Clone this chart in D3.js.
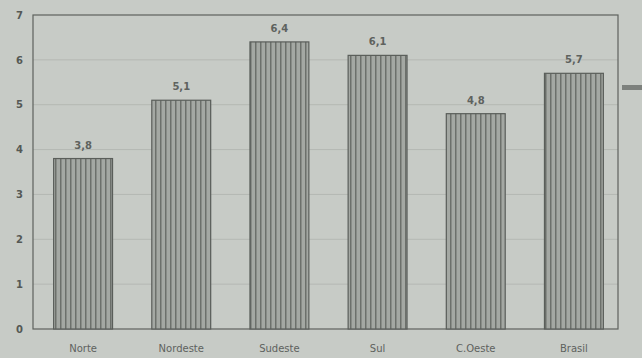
<!DOCTYPE html>
<html><head><meta charset="utf-8">
<script src="https://cdn.jsdelivr.net/npm/d3@7"></script>
<style>body{margin:0;background:#c7cbc6;}svg{display:block;}</style>
</head><body>
<script>
const categories = ["Norte","Nordeste","Sudeste","Sul","C.Oeste","Brasil"];
const values = [3.8, 5.1, 6.4, 6.1, 4.8, 5.7];
const valueLabels = ["3,8","5,1","6,4","6,1","4,8","5,7"];
const yTicks = [0,1,2,3,4,5,6,7];

const W = 642, H = 358;
const m = {left: 33, right: 24, top: 15, bottom: 30};
const svg = d3.select("body").append("svg").attr("width", W).attr("height", H);
svg.append("rect").attr("width", W).attr("height", H).attr("fill", "#c7cbc6");

const defs = svg.append("defs");
const pat = defs.append("pattern").attr("id","stripes").attr("patternUnits","userSpaceOnUse")
  .attr("width",5).attr("height",10);
pat.append("rect").attr("width",5).attr("height",10).attr("fill","#a4a8a3");
pat.append("rect").attr("x",0).attr("width",1.5).attr("height",10).attr("fill","#6c706b");

const x = d3.scaleBand().domain(categories).range([34, 623]).paddingInner(0.4).paddingOuter(0.2);
const y = d3.scaleLinear().domain([0,7]).range([H - m.bottom + 1, m.top]);

// gridlines
svg.append("g").selectAll("line").data(yTicks.slice(1,7)).join("line")
  .attr("x1", m.left).attr("x2", W - m.right)
  .attr("y1", d => y(d)).attr("y2", d => y(d))
  .attr("stroke", "#b4b8b3").attr("stroke-width", 1);

// frame
svg.append("rect").attr("x", m.left).attr("y", m.top)
  .attr("width", W - m.right - m.left).attr("height", y(0) - m.top)
  .attr("fill","none").attr("stroke","#5e625e").attr("stroke-width",1.2);

// y axis labels
const yAxis = d3.axisLeft(y).tickValues(yTicks).tickSize(0).tickPadding(10).tickFormat(d3.format("d"));
const ga = svg.append("g").attr("transform", `translate(${m.left},0)`).call(yAxis);
ga.select(".domain").remove();
ga.selectAll("text").attr("fill","#555955").attr("font-family","DejaVu Sans, sans-serif").attr("font-size",10).attr("font-weight","bold");

// bars
svg.append("g").selectAll("rect").data(values).join("rect")
  .attr("x", (d,i) => x(categories[i])).attr("width", x.bandwidth())
  .attr("y", d => y(d)).attr("height", d => y(0) - y(d))
  .attr("fill","url(#stripes)").attr("stroke","#5a5e5a").attr("stroke-width",1.2);

// value labels
svg.append("g").selectAll("text").data(values).join("text")
  .attr("x", (d,i) => x(categories[i]) + x.bandwidth()/2)
  .attr("y", d => y(d) - 10)
  .attr("text-anchor","middle").attr("fill","#5e625e")
  .attr("font-family","DejaVu Sans, sans-serif").attr("font-size",10).attr("font-weight","bold")
  .text((d,i) => valueLabels[i]);

// x axis labels
const xAxis = d3.axisBottom(x).tickSize(0).tickPadding(16);
const gx = svg.append("g").attr("transform", `translate(0,${y(0)})`).call(xAxis);
gx.select(".domain").remove();
gx.selectAll("text").attr("fill","#5e625e").attr("font-family","DejaVu Sans, sans-serif").attr("font-size",10);

// partial legend marker at right edge
svg.append("rect").attr("x", W - 20).attr("y", 85).attr("width", 20).attr("height", 5)
  .attr("fill","#6a6e6a").attr("opacity",0.8);
</script>
</body></html>
